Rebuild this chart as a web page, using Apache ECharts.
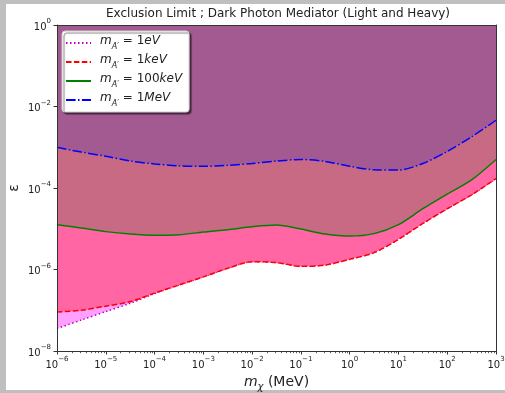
<!DOCTYPE html>
<html><head><meta charset="utf-8">
<script src="https://cdn.jsdelivr.net/npm/echarts@6/dist/echarts.min.js"></script>
<style>
html,body{margin:0;padding:0;background:#bfbfbf;width:505px;height:393px;overflow:hidden}
#bg{position:absolute;left:6px;top:4px;width:499px;height:386px;background:#fff}
#c{position:absolute;left:0;top:0;width:505px;height:393px}
</style></head><body><div id="bg"></div><div id="c"></div>
<script>
// Dark matter mass (MeV)
const massesMeV = [1e-6, 3.16e-6, 1e-5, 3.16e-5, 1e-4, 3.16e-4, 1e-3, 3.16e-3, 1e-2, 3.16e-2,
                   0.1, 0.316, 1, 3.16, 10, 31.6, 100, 316, 1000];
// epsilon limits per mediator mass
const eps1eV    = [3.55e-8, 5.75e-8, 9.3e-8, 1.48e-7, 2.57e-7, 4.17e-7, 6.6e-7, 1.07e-6, 1.55e-6, 1.48e-6,
                   1.2e-6, 1.29e-6, 1.78e-6, 2.6e-6, 5.5e-6, 1.35e-5, 3.1e-5, 6.8e-5, 1.7e-4];
const eps1keV   = [9.1e-8, 1.0e-7, 1.26e-7, 1.62e-7, 2.63e-7, 4.17e-7, 6.6e-7, 1.07e-6, 1.55e-6, 1.48e-6,
                   1.2e-6, 1.29e-6, 1.78e-6, 2.6e-6, 5.5e-6, 1.35e-5, 3.1e-5, 6.8e-5, 1.7e-4];
const eps100keV = [1.26e-5, 1.05e-5, 8.5e-6, 7.4e-6, 6.9e-6, 7.1e-6, 8.3e-6, 9.5e-6, 1.12e-5, 1.23e-5,
                   9.8e-6, 7.4e-6, 6.6e-6, 7.6e-6, 1.26e-5, 3.1e-5, 7.1e-5, 1.58e-4, 5.0e-4];
const eps1MeV   = [1.0e-3, 7.6e-4, 6.0e-4, 4.6e-4, 3.9e-4, 3.5e-4, 3.4e-4, 3.6e-4, 4.0e-4, 4.6e-4,
                   5.0e-4, 4.5e-4, 3.4e-4, 2.8e-4, 2.75e-4, 4.0e-4, 7.9e-4, 1.8e-3, 4.6e-3];
const seriesNames = ['1eV', '1keV', '100keV', '1MeV'];
const legendValues = {'1eV': ['1', 'eV'], '1keV': ['1', 'keV'], '100keV': ['100', 'keV'], '1MeV': ['1', 'MeV']};
const titleText = 'Exclusion Limit ; Dark Photon Mediator (Light and Heavy)';
const yAxisTitle = '\u03b5';

const FONT = 'DejaVu Sans';
const AX = '#333';

// minor tick positions on the x log axis (axis decoration)
const minorTicks = [];
for (let d = -6; d < 3; d++) for (let k = 2; k <= 9; k++) minorTicks.push(k * Math.pow(10, d));

function powLabel(v) {
  const e = Math.round(Math.log10(v));
  return '{b|10}{p|' + (e < 0 ? '\u2212' + (-e) : String(e)) + '}';
}
const tickRich = {
  b: {fontSize: 10, fontFamily: FONT, color: '#222', lineHeight: 14, verticalAlign: 'bottom'},
  p: {fontSize: 7, fontFamily: FONT, color: '#222', lineHeight: 8, verticalAlign: 'top'}
};

function mk(name, ys, color, dash, fill, z) {
  return {
    type: 'line', name: name, z: z, silent: true,
    data: massesMeV.map((x, i) => [x, ys[i]]),
    smooth: 0.3, symbol: 'none', showSymbol: false,
    lineStyle: {color: color, width: 1.5, type: dash},
    itemStyle: {color: color},
    areaStyle: {color: fill, opacity: 1, origin: 'end'}
  };
}

const chart = echarts.init(document.getElementById('c'), null, {renderer: 'canvas'});
const axisCommon = {
  type: 'log', logBase: 10, z: 10,
  splitLine: {show: false}, minorTick: {show: false}
};
chart.setOption({
  animation: false,
  backgroundColor: 'transparent',
  title: {
    text: titleText, left: 278, top: 8, textAlign: 'center', padding: 0,
    textStyle: {fontFamily: FONT, fontSize: 12, fontWeight: 'normal', color: '#222'}
  },
  graphic: [{
    type: 'text', x: 14, y: 188, rotation: Math.PI / 2, silent: true,
    style: {text: yAxisTitle, font: '14px "DejaVu Sans"', fill: '#222', align: 'center', verticalAlign: 'middle'}
  }],
  grid: {left: 57, right: 9, top: 25, bottom: 42, show: false, containLabel: false, outerBoundsMode: 'none'},
  legend: {
    z: 30,
    orient: 'vertical', left: 62, top: 31, itemWidth: 25, itemHeight: 14, itemGap: 3,
    padding: [4, 7, 4, 3], backgroundColor: '#fff', borderColor: '#cccccc', borderWidth: 1,
    borderRadius: 3, shadowColor: 'rgba(0,0,0,0.5)', shadowOffsetX: 2, shadowOffsetY: 2, shadowBlur: 1,
    data: seriesNames, selectedMode: false,
    itemStyle: {opacity: 0, borderWidth: 0},
    formatter: function (n) {
      const v = legendValues[n];
      return '{m|m}{s|A\u2032}{n| = ' + v[0] + '}{i|' + v[1] + '}';
    },
    textStyle: {
      padding: [0, 0, 0, 4],
      rich: {
        m: {fontFamily: FONT, fontSize: 12, fontStyle: 'italic', color: '#222', lineHeight: 16, verticalAlign: 'top'},
        s: {fontFamily: FONT, fontSize: 8, fontStyle: 'italic', color: '#222', lineHeight: 10, verticalAlign: 'bottom'},
        n: {fontFamily: FONT, fontSize: 12, color: '#222', lineHeight: 16, verticalAlign: 'top'},
        i: {fontFamily: FONT, fontSize: 12, fontStyle: 'italic', color: '#222', lineHeight: 16, verticalAlign: 'top'}
      }
    }
  },
  xAxis: [
    Object.assign({}, axisCommon, {
      min: 1e-6, max: 1e3, interval: 1, splitNumber: 9, position: 'bottom',
      axisLine: {show: true, lineStyle: {color: AX, width: 1}},
      axisTick: {show: true, length: 3.5, lineStyle: {color: AX, width: 1}},
      axisLabel: {formatter: powLabel, margin: 5, showMinLabel: true, showMaxLabel: true, hideOverlap: false, rich: tickRich},
      name: '{m|m}{s|\u03c7}{t| (MeV)}', nameLocation: 'middle', nameGap: 22,
      nameTextStyle: {rich: {
        m: {fontFamily: FONT, fontSize: 14, fontStyle: 'italic', color: '#222', lineHeight: 18, verticalAlign: 'top'},
        s: {fontFamily: FONT, fontSize: 10, fontStyle: 'italic', color: '#222', lineHeight: 12, verticalAlign: 'bottom'},
        t: {fontFamily: FONT, fontSize: 14, color: '#222', lineHeight: 18, verticalAlign: 'top'}
      }}
    }),
    Object.assign({}, axisCommon, {
      min: 1e-6, max: 1e3, position: 'top',
      axisLine: {show: true, lineStyle: {color: AX, width: 1}},
      axisTick: {show: false}, axisLabel: {show: false}
    })
  ],
  yAxis: [
    Object.assign({}, axisCommon, {
      min: 1e-8, max: 1, interval: 2, splitNumber: 4, position: 'left',
      axisLine: {show: true, lineStyle: {color: AX, width: 1}},
      axisTick: {show: true, length: 3.5, lineStyle: {color: AX, width: 1}},
      axisLabel: {formatter: powLabel, margin: 6, showMinLabel: true, showMaxLabel: true, hideOverlap: false, rich: tickRich}
    }),
    Object.assign({}, axisCommon, {
      min: 1e-8, max: 1, position: 'right',
      axisLine: {show: true, lineStyle: {color: AX, width: 1}},
      axisTick: {show: false}, axisLabel: {show: false}
    })
  ],
  series: [
    mk('1eV', eps1eV, '#bf00bf', [1.5, 2.5], '#ff9fff', 2),
    mk('1keV', eps1keV, '#ff0000', [5.5, 2.4], '#ff66a3', 3),
    mk('100keV', eps100keV, '#008000', 'solid', '#c96a84', 4),
    mk('1MeV', eps1MeV, '#0000ff', [9.6, 2.4, 1.5, 2.4], '#a35a91', 5),
    {
      type: 'custom', name: 'minor', silent: true, clip: false, z: 20,
      data: minorTicks.map(x => [x, 1e-8]),
      renderItem: function (p, api) {
        const pt = api.coord([api.value(0), api.value(1)]);
        const x = Math.round(pt[0]) + 0.5;
        return {type: 'line', shape: {x1: x, y1: pt[1], x2: x, y2: pt[1] + 2.2},
                style: {stroke: AX, lineWidth: 0.8}};
      }
    }
  ]
});
</script></body></html>
